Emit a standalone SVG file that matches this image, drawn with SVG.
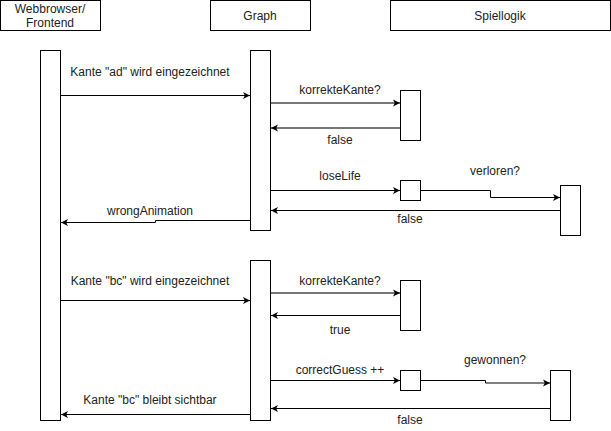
<svg xmlns="http://www.w3.org/2000/svg" width="611" height="431" viewBox="0 0 611 431">
<defs>
<marker id="arr" markerWidth="8" markerHeight="8" refX="7" refY="4" orient="auto" markerUnits="userSpaceOnUse">
<path d="M0,0.5 L7,4 L0,7.5 L1.8,4 Z" fill="#000"/>
</marker>
<style>
.box{fill:#fff;stroke:#000;stroke-width:1}
.t{font-family:"Liberation Sans",Arial,sans-serif;font-size:12px;fill:#222;text-anchor:middle}
.l{fill:none;stroke:#000;stroke-width:1}
.g{fill:none;stroke:#777;stroke-width:2}
</style>
</defs>
<rect width="611" height="431" fill="#fff"/>
<g id="head-browser"><rect class="box" x="0.5" y="0.5" width="100" height="30"/><text class="t" x="50" y="13">Webbrowser/</text><text class="t" x="50" y="27">Frontend</text></g>
<g id="head-graph"><rect class="box" x="210.5" y="0.5" width="100" height="30"/><text class="t" x="260" y="20">Graph</text></g>
<g id="head-spiellogik"><rect class="box" x="390.5" y="0.5" width="220" height="30"/><text class="t" x="500" y="20">Spiellogik</text></g>
<g id="act-browser"><rect class="box" x="40.5" y="50.5" width="20" height="370"/></g>
<g id="act-graph1"><rect class="box" x="250.5" y="50.5" width="20" height="180"/></g>
<g id="act-graph2"><rect class="box" x="250.5" y="260.5" width="20" height="160"/></g>
<g id="act-check1"><rect class="box" x="400.5" y="90.5" width="20" height="50"/></g>
<g id="act-lose"><rect class="box" x="400.5" y="180.5" width="20" height="20"/></g>
<g id="act-verloren"><rect class="box" x="560.5" y="185.5" width="20" height="50"/></g>
<g id="act-check2"><rect class="box" x="400.5" y="280.5" width="20" height="50"/></g>
<g id="act-correct"><rect class="box" x="400.5" y="370.5" width="20" height="20"/></g>
<g id="act-gewonnen"><rect class="box" x="550.5" y="370.5" width="20" height="50"/></g>
<g id="connectors">
<path class="l" d="M61,95.5 H250" marker-end="url(#arr)"/>
<text class="t" x="150" y="76">Kante "ad" wird eingezeichnet</text>
<path class="g" d="M271,103 H400" marker-end="url(#arr)"/>
<text class="t" x="340" y="94">korrekteKante?</text>
<path class="g" d="M400,128 H271" marker-end="url(#arr)"/>
<text class="t" x="340" y="144">false</text>
<path class="l" d="M271,190.5 H400" marker-end="url(#arr)"/>
<text class="t" x="340" y="180">loseLife</text>
<path class="l" d="M421,190.5 H490.5 V197.5 H560" marker-end="url(#arr)"/>
<text class="t" x="495" y="175">verloren?</text>
<path class="l" d="M560,210.5 H271" marker-end="url(#arr)"/>
<text class="t" x="410" y="223">false</text>
<path class="l" d="M250,220.5 H155.5 V222.5 H61" marker-end="url(#arr)"/>
<text class="t" x="150" y="215">wrongAnimation</text>
<path class="l" d="M61,300.5 H250" marker-end="url(#arr)"/>
<text class="t" x="150" y="285">Kante "bc" wird eingezeichnet</text>
<path class="g" d="M271,293 H400" marker-end="url(#arr)"/>
<text class="t" x="340" y="285">korrekteKante?</text>
<path class="l" d="M400,315.5 H271" marker-end="url(#arr)"/>
<text class="t" x="340" y="334">true</text>
<path class="l" d="M271,380.5 H400" marker-end="url(#arr)"/>
<text class="t" x="340" y="374">correctGuess ++</text>
<path class="l" d="M421,380.5 H485.5 V383 H550" marker-end="url(#arr)"/>
<text class="t" x="495" y="364">gewonnen?</text>
<path class="l" d="M550,408.5 H271" marker-end="url(#arr)"/>
<text class="t" x="410" y="424">false</text>
<path class="l" d="M250,414.5 H61" marker-end="url(#arr)"/>
<text class="t" x="150" y="404">Kante "bc" bleibt sichtbar</text>
</g>
</svg>
